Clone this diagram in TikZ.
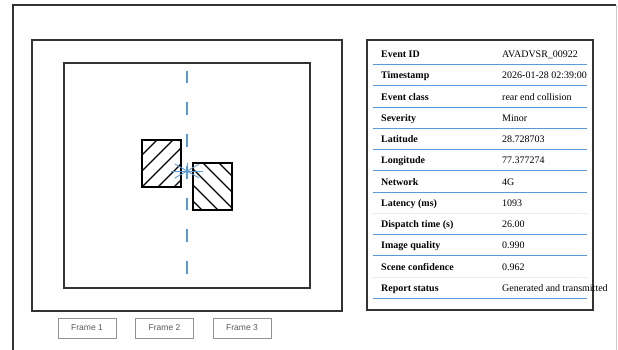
\documentclass[tikz,border=0pt]{standalone}
\usepackage{fontspec}
\setmainfont{Liberation Serif}
\newfontfamily\framefont{Liberation Sans}

\definecolor{edge}{HTML}{333333}
\definecolor{rule}{HTML}{5B9BD5}
\definecolor{faintrule}{HTML}{E4ECF4}
\definecolor{laneblue}{HTML}{5A9AD0}

\tikzset{
  field/.style={anchor=west, inner sep=0pt, text height=7pt, text depth=2pt, font=\bfseries},
  value/.style={anchor=west, inner sep=0pt, text height=7pt, text depth=2pt},
  vehicle/.style={draw=black, line width=1.4pt, minimum width=39pt, minimum height=47pt, inner sep=0pt},
  framebtn/.style={draw=gray!85, line width=0.9pt, minimum width=58pt, minimum height=20pt, inner sep=0pt,
    font=\framefont\fontsize{8.5}{9}\selectfont, text=gray!70!black},
  spark/.style={draw=laneblue, line width=0.9pt}
}

\begin{document}
\begin{tikzpicture}[x=1pt, y=-1pt]

    \useasboundingbox (0,0) rectangle (618,350);

    % page border
    \draw[edge, line width=1.2pt] (13,350) -- (13,5) -- (616,5);
    \draw[gray!40, line width=1pt] (616,5) -- (616,350);

    % camera view
    \draw[edge, line width=1.3pt] (32,40) rectangle (342,311);
    \draw[edge, line width=1.1pt] (64,63) rectangle (310,288);

    \draw[laneblue, line width=1.3pt, dash pattern=on 12.7pt off 19pt] (187,70.7) -- (187,278);

    \node[vehicle] (lead) at (161.5,163.5) {};
    \node[vehicle] (rear) at (212.5,186.5) {};

    \begin{scope}
        \clip (lead.south west) rectangle (lead.north east);
        \foreach \c in {297,313,329,345,361}
            \draw[line width=1.1pt] (\c-130,130) -- (\c-200,200);
    \end{scope}
    \begin{scope}
        \clip (rear.south west) rectangle (rear.north east);
        \foreach \c in {-56,-40,-24,-8,8}
            \draw[line width=1.1pt] (155-\c,155) -- (220-\c,220);
    \end{scope}

    \coordinate (impact) at (187,171);
    \foreach \a/\r in {0/16,30/14,90/8,150/14,180/16,210/14,270/8,330/14}
        \draw[spark] (impact) -- ++(\a:\r);

    % frame thumbnails
    \node[framebtn] (frame1) at (87,328) {Frame 1};
    \node[framebtn] (frame2) at (164.5,328) {Frame 2};
    \node[framebtn] (frame3) at (242,328) {Frame 3};

    % event report
    \draw[edge, line width=1.4pt] (367,40) rectangle (593,310);
    \foreach \lab/\val/\rc [count=\i from 0] in {
        Event ID/AVADVSR\_00922/rule,
        Timestamp/2026-01-28 02:39:00/rule,
        Event class/rear end collision/rule,
        Severity/Minor/rule,
        Latitude/28.728703/rule,
        Longitude/77.377274/rule,
        Network/4G/rule,
        Latency (ms)/1093/faintrule,
        Dispatch time (s)/26.00/rule,
        Image quality/0.990/rule,
        Scene confidence/0.962/faintrule,
        Report status/Generated and transmitted/rule}
    {
        \node[field] (lab\i) at (381,55+21.27*\i) {\lab};
        \node[value] (val\i) at (502,55+21.27*\i) {\val};
        \draw[\rc, line width=1pt] (373,64.5+21.27*\i) -- (587,64.5+21.27*\i);
    }

\end{tikzpicture}
\end{document}
